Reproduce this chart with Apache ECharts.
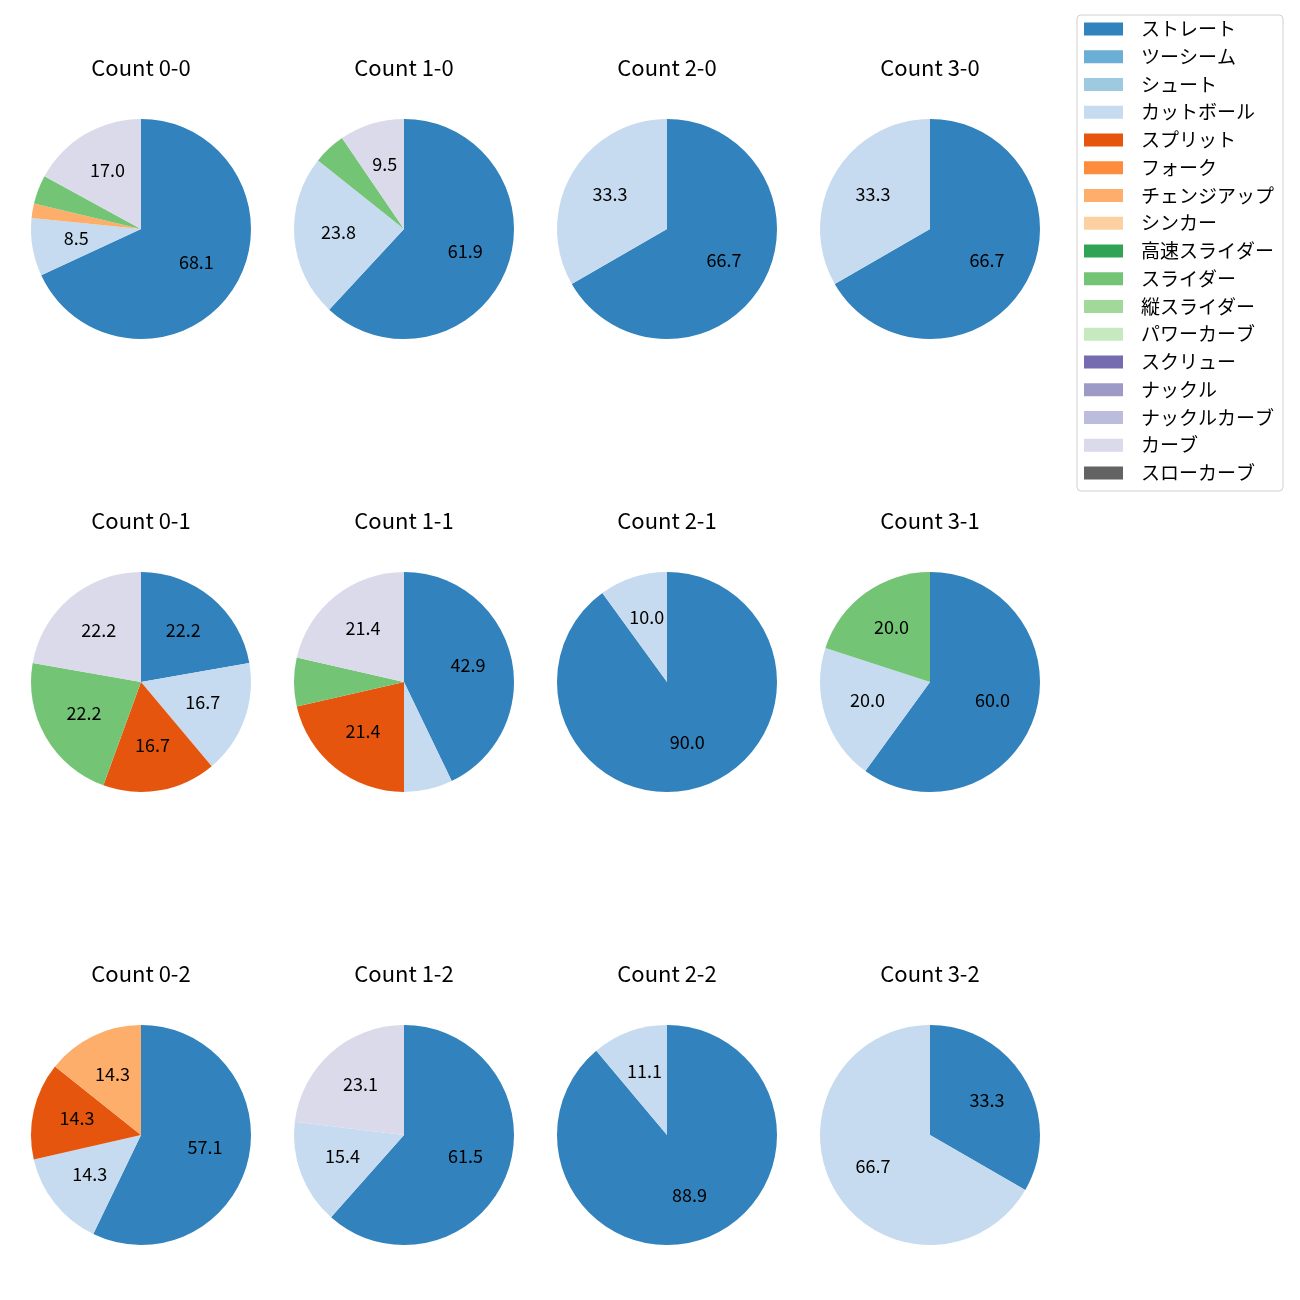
<!DOCTYPE html>
<html>
<head>
<meta charset="utf-8">
<script src="https://cdn.jsdelivr.net/npm/echarts@6/dist/echarts.min.js"></script>
<style>html,body{margin:0;padding:0;background:#fff;}#c{width:1300px;height:1300px;}</style>
</head>
<body>
<div id="c"></div>
<script>
// Pitch types (legend order) and colours
const pitchTypes = ['ストレート','ツーシーム','シュート','カットボール','スプリット','フォーク','チェンジアップ','シンカー','高速スライダー','スライダー','縦スライダー','パワーカーブ','スクリュー','ナックル','ナックルカーブ','カーブ','スローカーブ'];
const pitchColors = ['#3182bd','#6baed6','#9ecae1','#c6dbef','#e6550d','#fd8d3c','#fdae6b','#fdd0a2','#31a354','#74c476','#a1d99b','#c7e9c0','#756bb1','#9e9ac8','#bcbddc','#dadaeb','#636363'];

// Count titles
const countTitles = ['Count 0-0','Count 1-0','Count 2-0','Count 3-0','Count 0-1','Count 1-1','Count 2-1','Count 3-1','Count 0-2','Count 1-2','Count 2-2','Count 3-2'];

// Pitch counts per count state (order = pitchTypes)
const count00 = [32,0,0,4,0,0,1,0,0,2,0,0,0,0,0,8,0];
const count10 = [13,0,0,5,0,0,0,0,0,1,0,0,0,0,0,2,0];
const count20 = [2,0,0,1,0,0,0,0,0,0,0,0,0,0,0,0,0];
const count30 = [2,0,0,1,0,0,0,0,0,0,0,0,0,0,0,0,0];
const count01 = [4,0,0,3,3,0,0,0,0,4,0,0,0,0,0,4,0];
const count11 = [6,0,0,1,3,0,0,0,0,1,0,0,0,0,0,3,0];
const count21 = [9,0,0,1,0,0,0,0,0,0,0,0,0,0,0,0,0];
const count31 = [3,0,0,1,0,0,0,0,0,1,0,0,0,0,0,0,0];
const count02 = [4,0,0,1,1,0,1,0,0,0,0,0,0,0,0,0,0];
const count12 = [8,0,0,2,0,0,0,0,0,0,0,0,0,0,0,3,0];
const count22 = [8,0,0,1,0,0,0,0,0,0,0,0,0,0,0,0,0];
const count32 = [1,0,0,2,0,0,0,0,0,0,0,0,0,0,0,0,0];

const allCounts = [count00,count10,count20,count30,count01,count11,count21,count31,count02,count12,count22,count32];

// Layout
const colX = [141, 404, 667, 930];
const rowY = [229, 682, 1135];
const R = 110;
const FONT = '"Noto Sans CJK JP", "Noto Sans", sans-serif';

const series = [];
const titles = [];
allCounts.forEach(function (arr, i) {
  const cx = colX[i % 4], cy = rowY[Math.floor(i / 4)];
  const data = arr.map(function (v, k) {
    return { name: pitchTypes[k], value: v, itemStyle: { color: pitchColors[k] } };
  });
  series.push({
    type: 'pie', center: [cx, cy], radius: [0, R], startAngle: 90, clockwise: true,
    silent: true, label: { show: false }, labelLine: { show: false },
    itemStyle: { borderWidth: 0 }, data: data
  });
  series.push({
    type: 'pie', center: [cx, cy], radius: [R * 0.14, R], startAngle: 90, clockwise: true,
    silent: true, labelLine: { show: false },
    itemStyle: { color: 'rgba(0,0,0,0)', borderWidth: 0 },
    label: {
      show: true, position: 'inside', color: '#000', fontSize: 18, fontFamily: FONT, offset: [0, -2],
      formatter: function (p) { return p.percent >= 8 ? p.percent.toFixed(1) : ''; }
    },
    data: arr.map(function (v, k) { return { name: pitchTypes[k], value: v }; })
  });
  titles.push({
    text: countTitles[i], left: cx, top: cy - 172, textAlign: 'center', padding: 0,
    textStyle: { fontSize: 22, fontWeight: 'normal', color: '#000', fontFamily: FONT }
  });
});

const chart = echarts.init(document.getElementById('c'), null, { renderer: 'canvas' });
chart.setOption({
  animation: false,
  title: titles,
  legend: {
    orient: 'vertical', left: 1077, top: 15,
    data: pitchTypes,
    itemWidth: 39, itemHeight: 13, itemGap: 7.75,
    icon: 'rect',
    padding: [4, 9, 8, 7],
    borderColor: '#d0d0d0', borderWidth: 1, borderRadius: 4,
    selectedMode: false,
    textStyle: { fontSize: 19, lineHeight: 20, color: '#000', fontFamily: FONT, padding: [0, 0, 0, 13] }
  },
  series: series
});
</script>
</body>
</html>
